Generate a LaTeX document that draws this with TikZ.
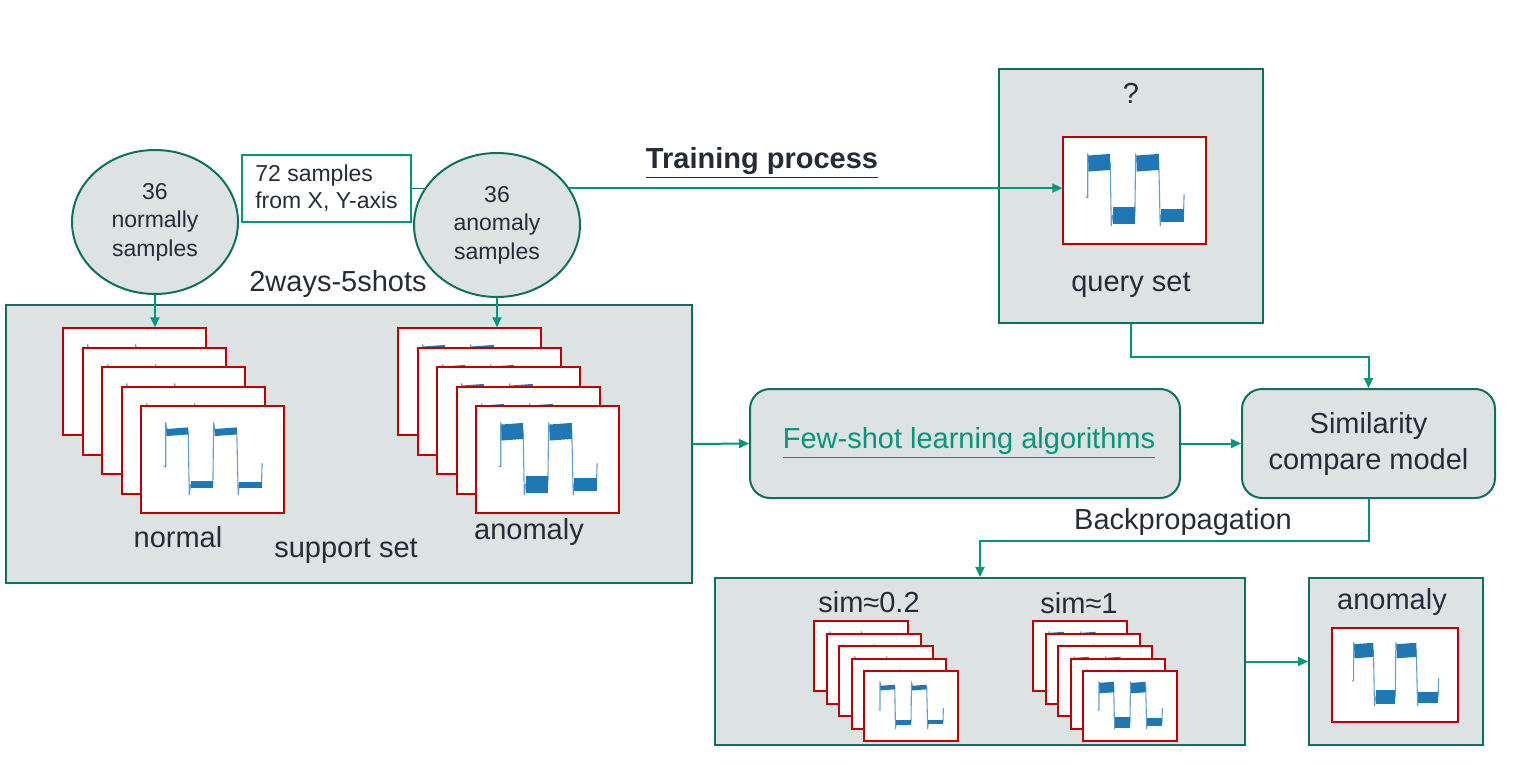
\documentclass[tikz,border=0pt]{standalone}
\usepackage{fontspec}
\setmainfont{Liberation Sans}
\usepackage{tikz}
\usetikzlibrary{arrows.meta,positioning,calc,shapes.geometric}

\definecolor{boxgray}{RGB}{221,227,227}
\definecolor{tealdark}{RGB}{16,112,96}
\definecolor{tealarrow}{RGB}{0,150,122}
\definecolor{cardred}{RGB}{192,0,0}
\definecolor{sigblue}{RGB}{31,119,180}
\definecolor{txtdark}{RGB}{38,43,56}

\newcommand{\bigtxt}{\fontsize{14.5}{18}\selectfont}
\newcommand{\midtxt}{\fontsize{11.5}{14.2}\selectfont}

% signal plot inside a card: node, width, height, half band
\newcommand{\sigwave}[4]{%
  \begin{scope}[shift={(#1.north west)}, xscale=#2, yscale=#3]
    \draw[sigblue!70, line width=0.55pt] (0.163,0.57) -- (0.178,0.57) -- (0.178,0.16) -- (0.19,0.25)
      -- (0.335,0.24) -- (0.343,0.84) -- (0.352,0.74) -- (0.508,0.74) -- (0.513,0.16) -- (0.525,0.25)
      -- (0.675,0.24) -- (0.685,0.84) -- (0.692,0.74) -- (0.848,0.74) -- (0.852,0.54);
    \fill[sigblue] (0.183,{0.255-#4}) -- (0.335,{0.24-#4}) -- (0.335,{0.24+#4}) -- (0.183,{0.255+#4}) -- cycle;
    \fill[sigblue] (0.352,{0.74-#4}) -- (0.508,{0.74-#4}) -- (0.508,{0.745+#4}) -- (0.352,{0.745+#4}) -- cycle;
    \fill[sigblue] (0.52,{0.255-#4}) -- (0.675,{0.24-#4}) -- (0.675,{0.24+#4}) -- (0.52,{0.255+#4}) -- cycle;
    \fill[sigblue] (0.692,{0.74-0.75*#4}) -- (0.848,{0.74-0.75*#4}) -- (0.848,{0.745+0.75*#4}) -- (0.692,{0.745+0.75*#4}) -- cycle;
  \end{scope}}

\tikzset{
  panel/.style={draw=tealdark, fill=boxgray, line width=1pt, inner sep=0pt},
  roundbox/.style={panel, rounded corners=10pt},
  sampleell/.style={ellipse, draw=tealdark, fill=boxgray, line width=1pt, minimum width=83pt,
    minimum height=72pt, inner sep=0pt, align=center, font=\midtxt, text=txtdark},
  card/.style={draw=cardred, fill=white, line width=0.75pt, inner sep=0pt},
  bigcard/.style={card, minimum width=71.5pt, minimum height=53.5pt},
  smallcard/.style={card, minimum width=47pt, minimum height=35pt},
  endcard/.style={card, minimum width=63pt, minimum height=47pt},
  lbl/.style={font=\bigtxt, text=txtdark, inner sep=0pt},
  flow/.style={draw=tealarrow, line width=1pt, -{Triangle[length=5pt,width=4.5pt]}}
}

\begin{document}
\begin{tikzpicture}[x=0.5pt,y=-0.5pt]
  \useasboundingbox (0,0) rectangle (1531,765);

  \node[panel, minimum width=343pt, minimum height=139pt] (support) at (349,444) {};
  \node[panel, minimum width=132pt, minimum height=127pt] (qbox) at (1131,196) {};
  \node[panel, minimum width=265pt, minimum height=83.5pt] (bot) at (980,661.5) {};
  \node[panel, minimum width=87pt, minimum height=83.5pt] (res) at (1396,661.5) {};

  \node[sampleell] (elln) at (155,222) {36\\normally\\samples};
  \node[sampleell] (ella) at (497,225) {36\\anomaly\\samples};
  \node[draw=tealarrow, line width=0.6pt, fill=white, minimum width=84.5pt, minimum height=33.5pt,
    inner sep=5pt, align=left, font=\fontsize{11.5}{13.5}\selectfont, text=txtdark] (xybox) at (326.5,188.5)
    {72 samples\\from X, Y-axis};

  \node[lbl] (ways) at (338,284) {2ways-5shots};

  \foreach \i in {0,...,4} {
    \node[bigcard] (nrm\i) at ({134.5+round(19.5*\i)},{381.5+round(19.5*\i)}) {};
    \sigwave{nrm\i}{143}{107}{0.033}
    \node[bigcard] (anm\i) at ({469.5+round(19.5*\i)},{381.5+round(19.5*\i)}) {};
    \sigwave{anm\i}{143}{107}{0.075}
  }
  \node[lbl] (nrmlbl) at (178,537) {normal};
  \node[lbl] (suplbl) at (346,551) {support set};
  \node[lbl] (anmlbl) at (529,532) {anomaly};

  \node[lbl] (qmark) at (1131,93) {?};
  \node[bigcard] (qcard) at (1134.5,190.5) {};
  \sigwave{qcard}{143}{107}{0.075}
  \node[lbl] (qlbl) at (1131,285) {query set};

  \node[roundbox, minimum width=215pt, minimum height=54.5pt] (fsl) at (965,443.5) {};
  \node[font=\bigtxt, text=tealarrow, inner sep=0pt] (fsltxt) at (969,443) {\underline{Few-shot learning algorithms}};
  \node[roundbox, minimum width=126.5pt, minimum height=54.5pt, align=center, font=\fontsize{14.5}{18}\selectfont,
    text=txtdark] (sim) at (1368.5,443.5) {Similarity\\compare model};

  \node[lbl] (s02) at (869,602) {sim≈0.2};
  \node[lbl] (s1) at (1079,603) {sim≈1};
  \foreach \i in {0,...,4} {
    \node[smallcard] (lo\i) at ({861+round(12.5*\i)},{656+round(12.5*\i)}) {};
    \sigwave{lo\i}{94}{70}{0.033}
    \node[smallcard] (hi\i) at ({1080+round(12.5*\i)},{656+round(12.5*\i)}) {};
    \sigwave{hi\i}{94}{70}{0.075}
  }
  \node[lbl] (reslbl) at (1392,602) {anomaly};
  \node[endcard] (rescard) at (1395,675) {};
  \sigwave{rescard}{126}{94}{0.075}

  \node[font=\bfseries\bigtxt, text=txtdark, inner sep=0pt] (train) at (762,163) {\underline{Training process}};
  \node[lbl] (bp) at (1183,522) {Backpropagation};

  \draw[tealdark, line width=0.8pt] (xybox.east) -- (xybox.east -| ella.153);
  \draw[flow, line width=0.75pt] (ella.27) -- (ella.27 -| qcard.west);
  \draw[flow] (elln.south) -- (elln.south |- nrm0.north);
  \draw[flow] (ella.south) -- (ella.south |- anm0.north);
  \draw[flow] (support.east) -- (fsl.west);
  \draw[flow] (fsl.east) -- (sim.west);
  \draw[flow] (qbox.south) -- ++(0,33) -| (sim.north);
  \draw[flow] (sim.south) -- ++(0,42) -| (bot.north);
  \draw[flow] (bot.east) -- (res.west);
\end{tikzpicture}
\end{document}
